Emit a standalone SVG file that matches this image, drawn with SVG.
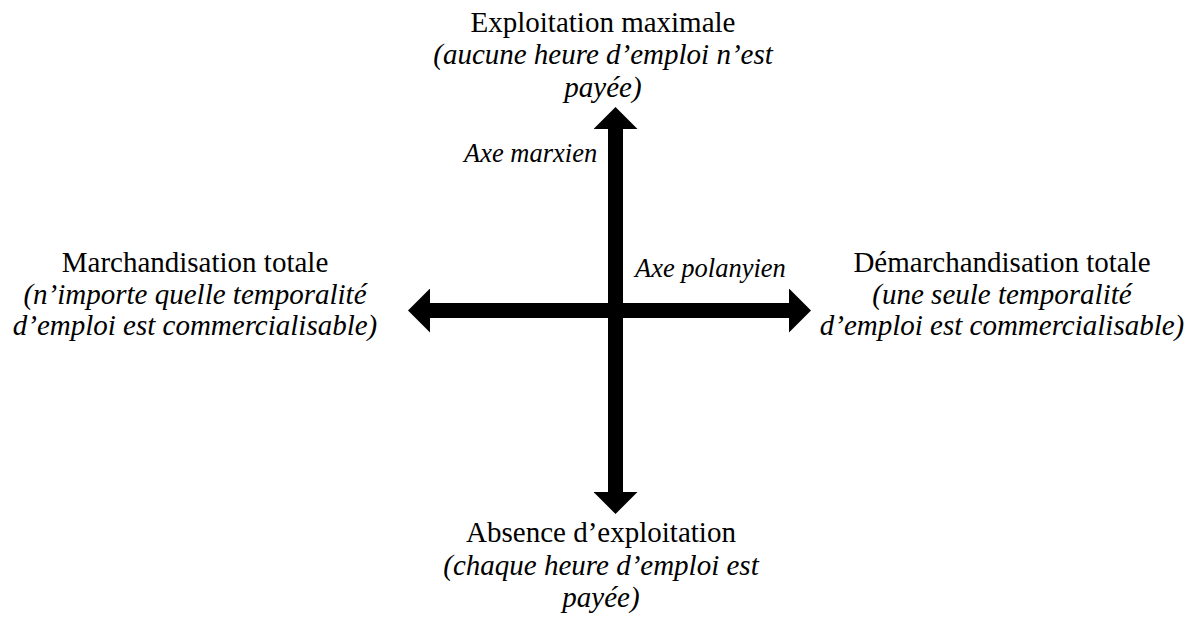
<svg xmlns="http://www.w3.org/2000/svg" width="1198" height="619" viewBox="0 0 1198 619">
  <style>
    .t { font-family: "Liberation Serif", "Times New Roman", serif; font-size: 29px; fill: #000; text-anchor: middle; }
    .i { font-style: italic; }
    .ax { font-family: "Liberation Serif", "Times New Roman", serif; font-size: 26.5px; font-style: italic; fill: #000; }
    .shaft { stroke: #000; stroke-width: 15; fill: none; marker-start: url(#head); marker-end: url(#head); }
  </style>
  <defs>
    <marker id="head" markerUnits="userSpaceOnUse" viewBox="0 -22 22 44" refX="0" refY="0" markerWidth="22" markerHeight="44" orient="auto-start-reverse">
      <path d="M0,-22 L22,0 L0,22 Z" fill="#000"/>
    </marker>
  </defs>
  <rect width="1198" height="619" fill="#fff"/>
  <g id="connectors">
    <line class="shaft" x1="615.5" y1="492" x2="615.5" y2="129"/>
    <line class="shaft" x1="430" y1="310.5" x2="789" y2="310.5"/>
  </g>
  <g id="node-top">
    <text class="t" x="603" y="32">Exploitation maximale</text>
    <text class="t i" x="603" y="64">(aucune heure d’emploi n’est</text>
    <text class="t i" x="603" y="96.5">payée)</text>
  </g>
  <g id="node-bottom">
    <text class="t" x="601" y="542">Absence d’exploitation</text>
    <text class="t i" x="601" y="574.5">(chaque heure d’emploi est</text>
    <text class="t i" x="601" y="607">payée)</text>
  </g>
  <g id="node-left">
    <text class="t" x="195" y="272">Marchandisation totale</text>
    <text class="t i" x="195" y="304">(n’importe quelle temporalité</text>
    <text class="t i" x="195" y="335">d’emploi est commercialisable)</text>
  </g>
  <g id="node-right">
    <text class="t" x="1002" y="272">Démarchandisation totale</text>
    <text class="t i" x="1002" y="304">(une seule temporalité</text>
    <text class="t i" x="1002" y="335">d’emploi est commercialisable)</text>
  </g>
  <g id="label-marx">
    <text class="ax" x="464" y="162">Axe marxien</text>
  </g>
  <g id="label-polanyi">
    <text class="ax" x="635" y="277">Axe polanyien</text>
  </g>
</svg>
